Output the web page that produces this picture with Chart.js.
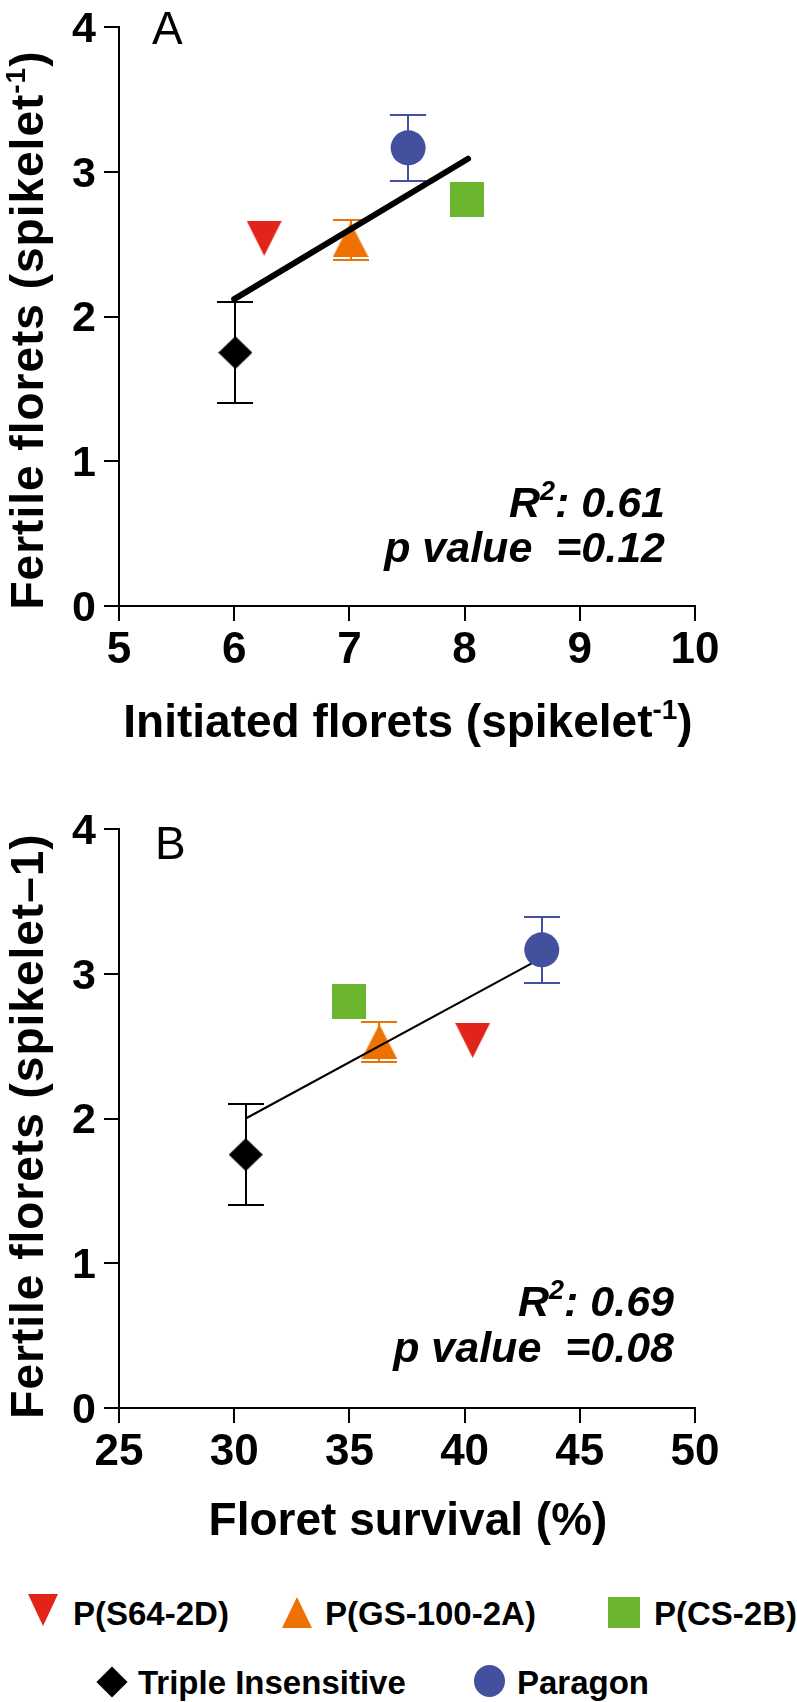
<!DOCTYPE html>
<html><head><meta charset="utf-8">
<script src="https://cdn.jsdelivr.net/npm/chart.js@4"></script>
<style>
html,body{margin:0;padding:0;background:#fff;}
body{width:797px;height:1702px;position:relative;overflow:hidden;font-family:"Liberation Sans",Arial,sans-serif;}
canvas{position:absolute;left:0;}
#cA{top:0;}
#cB{top:780px;}
.lg{position:absolute;font:bold 33px/33px "Liberation Sans",Arial,sans-serif;color:#000;white-space:nowrap;}
.mk{position:absolute;width:0;height:0;}
</style></head><body>
<canvas id="cA" width="797" height="780"></canvas>
<canvas id="cB" width="797" height="780"></canvas>

<div class="mk" style="left:28px;top:1594px;border-left:15.5px solid transparent;border-right:15.5px solid transparent;border-top:32px solid #e2231a;"></div>
<div class="lg" style="left:73px;top:1597px;">P(S64-2D)</div>
<div class="mk" style="left:282px;top:1597px;border-left:15.5px solid transparent;border-right:15.5px solid transparent;border-bottom:31px solid #ee7203;"></div>
<div class="lg" style="left:325px;top:1597px;">P(GS-100-2A)</div>
<div class="mk" style="left:608px;top:1597px;width:32px;height:31px;background:#6ab42e;"></div>
<div class="lg" style="left:654px;top:1597px;">P(CS-2B)</div>
<div class="mk" style="left:101px;top:1671px;width:22px;height:22px;background:#000;transform:rotate(45deg);"></div>
<div class="lg" style="left:138px;top:1666px;">Triple Insensitive</div>
<div class="mk" style="left:474px;top:1665px;width:31px;height:32px;border-radius:50%;background:#43509d;"></div>
<div class="lg" style="left:517px;top:1666px;">Paragon</div>

<script>
// ---- data ----
const genotypes = ['P(S64-2D)', 'P(GS-100-2A)', 'P(CS-2B)', 'Triple Insensitive', 'Paragon'];
const initiatedFlorets = [6.26, 7.01, 8.02, 6.01, 7.51];
const floretSurvival = [40.35, 36.3, 35.0, 30.5, 43.35];
const fertileFlorets = [2.54, 2.53, 2.81, 1.75, 3.165];
const fertileFloretsErr = [0, 0.14, 0, 0.35, 0.23];
const fitAx = [6.0, 8.03];
const fitAy = [2.12, 3.09];
const fitBx = [30.5, 43.35];
const fitBy = [2.0, 3.11];
const xTicksA = [5, 6, 7, 8, 9, 10];
const xTicksB = [25, 30, 35, 40, 45, 50];
const yTicks = [0, 1, 2, 3, 4];

const colors = ['#e2231a', '#ee7203', '#6ab42e', '#000000', '#43509d'];
const FAM = '"Liberation Sans", Arial, sans-serif';

function shapeCanvas(w, h, color, kind) {
  const c = document.createElement('canvas');
  c.width = w; c.height = h;
  const g = c.getContext('2d');
  g.fillStyle = color;
  g.beginPath();
  if (kind === 'down') { g.moveTo(0, 0); g.lineTo(w, 0); g.lineTo(w / 2, h); }
  else if (kind === 'up') { g.moveTo(w / 2, 0); g.lineTo(w, h); g.lineTo(0, h); }
  else if (kind === 'diamond') { g.moveTo(w / 2, 0); g.lineTo(w, h / 2); g.lineTo(w / 2, h); g.lineTo(0, h / 2); }
  else { g.rect(0, 0, w, h); }
  g.closePath(); g.fill();
  return c;
}
const markers = [
  shapeCanvas(35, 35, colors[0], 'down'),
  shapeCanvas(36, 35, colors[1], 'up'),
  shapeCanvas(34, 35, colors[2], 'rect'),
  shapeCanvas(34, 33, colors[3], 'diamond'),
  'circle'
];

function fontStr(p) {
  return (p.italic ? 'italic ' : '') + (p.bold === false ? 'normal ' : 'bold ') + p.size + 'px ' + FAM;
}
function drawRich(ctx, parts, x, y, align, spacing) {
  ctx.save();
  try { ctx.letterSpacing = (spacing || 0) + 'px'; } catch (e) {}
  ctx.textBaseline = 'alphabetic';
  ctx.textAlign = 'left';
  ctx.fillStyle = '#000';
  const widths = parts.map(p => { ctx.font = fontStr(p); return ctx.measureText(p.t).width; });
  const total = widths.reduce((a, b) => a + b, 0);
  let cx = align === 'center' ? x - total / 2 : (align === 'right' ? x - total : x);
  parts.forEach((p, i) => { ctx.font = fontStr(p); ctx.fillText(p.t, cx, y + (p.dy || 0)); cx += widths[i]; });
  ctx.restore();
}

const errorBarPlugin = {
  id: 'errorBars',
  beforeDatasetsDraw(chart, args, opts) {
    const ctx = chart.ctx, xs = chart.scales.x, ys = chart.scales.y;
    ctx.save();
    ctx.lineWidth = 2;
    opts.x.forEach((xv, i) => {
      const e = opts.err[i];
      if (!e) return;
      const px = Math.round(xs.getPixelForValue(xv));
      const t = Math.round(ys.getPixelForValue(opts.y[i] + e));
      const b = Math.round(ys.getPixelForValue(opts.y[i] - e));
      ctx.strokeStyle = opts.colors[i];
      ctx.beginPath();
      ctx.moveTo(px, t); ctx.lineTo(px, b);
      ctx.moveTo(px - 18, t); ctx.lineTo(px + 18, t);
      ctx.moveTo(px - 18, b); ctx.lineTo(px + 18, b);
      ctx.stroke();
    });
    ctx.restore();
  }
};

const textPlugin = {
  id: 'texts',
  afterDraw(chart, args, opts) {
    const ctx = chart.ctx;
    opts.items.forEach(it => {
      if (it.rotate) {
        ctx.save();
        ctx.translate(it.x, it.y);
        ctx.rotate(-Math.PI / 2);
        drawRich(ctx, it.parts, 0, 0, 'center', it.spacing);
        ctx.restore();
      } else {
        drawRich(ctx, it.parts, it.x, it.y, it.align || 'left', it.spacing);
      }
    });
  }
};

function makeChart(id, xVals, xTicks, fitX, fitY, fitW, fitCap, topPad, axisH, items) {
  const datasets = genotypes.map((g, i) => ({
    label: g,
    data: [{ x: xVals[i], y: fertileFlorets[i] }],
    pointStyle: markers[i],
    pointRadius: i === 4 ? 17.5 : 17,
    pointBackgroundColor: colors[i],
    pointBorderWidth: 0,
    pointBorderColor: colors[i],
    showLine: false,
    clip: false,
    order: i === 4 ? 0 : 2
  }));
  datasets.push({
    label: 'fit',
    data: fitX.map((v, i) => ({ x: v, y: fitY[i] })),
    showLine: true,
    borderColor: '#000',
    borderWidth: fitW,
    borderCapStyle: fitCap,
    pointRadius: 0,
    clip: false,
    order: 1
  });
  return new Chart(document.getElementById(id), {
    type: 'scatter',
    data: { datasets },
    options: {
      responsive: false,
      animation: false,
      devicePixelRatio: 1,
      events: [],
      layout: { padding: { left: 0, top: topPad, right: 102, bottom: 0 } },
      plugins: {
        legend: { display: false },
        tooltip: { enabled: false },
        errorBars: { x: xVals, y: fertileFlorets, err: fertileFloretsErr, colors },
        texts: { items }
      },
      scales: {
        x: {
          type: 'linear',
          min: xTicks[0], max: xTicks[xTicks.length - 1],
          afterBuildTicks: s => { s.ticks = xTicks.map(v => ({ value: v })); },
          afterFit: s => { s.height = axisH; s.paddingLeft = 0; s.paddingRight = 0; },
          grid: { display: true, drawOnChartArea: false, drawTicks: true, tickLength: 15, color: '#000', lineWidth: 2 },
          border: { display: true, color: '#000', width: 2 },
          ticks: { color: '#000', font: { family: FAM, size: 44, weight: 'bold' }, padding: 3, maxRotation: 0, autoSkip: false }
        },
        y: {
          type: 'linear',
          min: yTicks[0], max: yTicks[yTicks.length - 1],
          afterBuildTicks: s => { s.ticks = yTicks.map(v => ({ value: v })); },
          afterFit: s => { s.width = 119; s.paddingTop = 0; s.paddingBottom = 0; },
          grid: { display: true, drawOnChartArea: false, drawTicks: true, tickLength: 15, color: '#000', lineWidth: 2 },
          border: { display: true, color: '#000', width: 2 },
          ticks: { color: '#000', font: { family: FAM, size: 43, weight: 'bold' }, padding: 8, labelOffset: 3, autoSkip: false }
        }
      }
    },
    plugins: [errorBarPlugin, textPlugin]
  });
}

// Panel A
makeChart('cA', initiatedFlorets, xTicksA, fitAx, fitAy, 6, 'round', 27, 174, [
  { x: 152, y: 44, parts: [{ t: 'A', size: 46, bold: false }] },
  { x: 665, y: 517, align: 'right', parts: [{ t: 'R', size: 43, italic: true }, { t: '2', size: 27, italic: true, dy: -17 }, { t: ': 0.61', size: 43, italic: true }] },
  { x: 665, y: 562, align: 'right', parts: [{ t: 'p value  =0.12', size: 43, italic: true }] },
  { x: 408, y: 737, align: 'center', parts: [{ t: 'Initiated florets (spikelet', size: 46 }, { t: '-1', size: 28, dy: -18 }, { t: ')', size: 46 }] },
  { x: 43, y: 330, rotate: true, spacing: 1, parts: [{ t: 'Fertile florets (spikelet', size: 46 }, { t: '-1', size: 28, dy: -18 }, { t: ')', size: 46 }] }
]);

// Panel B
makeChart('cB', floretSurvival, xTicksB, fitBx, fitBy, 2, 'butt', 49, 152, [
  { x: 155, y: 79, parts: [{ t: 'B', size: 46, bold: false }] },
  { x: 674, y: 536, align: 'right', parts: [{ t: 'R', size: 43, italic: true }, { t: '2', size: 27, italic: true, dy: -17 }, { t: ': 0.69', size: 43, italic: true }] },
  { x: 674, y: 582, align: 'right', parts: [{ t: 'p value  =0.08', size: 43, italic: true }] },
  { x: 408, y: 755, align: 'center', parts: [{ t: 'Floret survival (%)', size: 46 }] },
  { x: 43, y: 346, rotate: true, spacing: 1, parts: [{ t: 'Fertile florets (spikelet\u20131)', size: 46 }] }
]);
</script>
</body></html>
